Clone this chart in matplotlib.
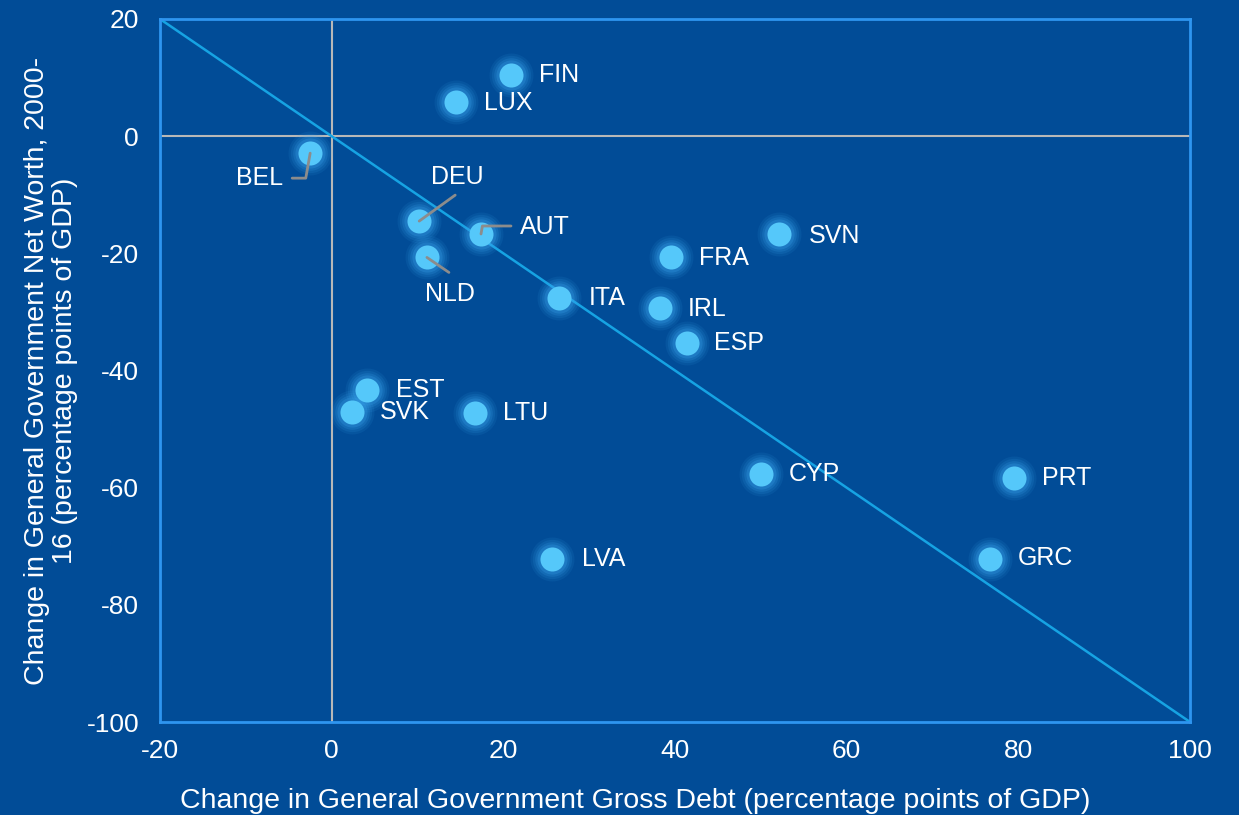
import matplotlib.pyplot as plt

plt.rcParams['font.family'] = ['Liberation Sans', 'DejaVu Sans']
plt.rcParams['axes.unicode_minus'] = False

countries = ['FIN', 'LUX', 'BEL', 'DEU', 'NLD', 'AUT', 'ITA', 'FRA', 'SVN', 'IRL',
             'ESP', 'EST', 'SVK', 'LTU', 'CYP', 'PRT', 'LVA', 'GRC']
debt = [20.9, 14.5, -2.5, 10.2, 11.1, 17.4, 26.5, 39.5, 52.1, 38.3,
        41.4, 4.1, 2.4, 16.7, 50.0, 79.5, 25.7, 76.7]
net_worth = [10.4, 5.8, -2.9, -14.5, -20.7, -16.7, -27.6, -20.6, -16.7, -29.4,
             -35.3, -43.3, -47.1, -47.3, -57.7, -58.4, -72.2, -72.2]

bg = '#014C97'
fig = plt.figure(figsize=(12.39, 8.15), dpi=100, facecolor=bg)
ax = fig.add_axes([0.1291, 0.1141, 0.8314, 0.8626], facecolor=bg)

ax.set_xlim(-20, 100)
ax.set_ylim(-100, 20)
ax.axhline(0, color='#B8B8B8', lw=1.5, zorder=1)
ax.axvline(0, color='#B8B8B8', lw=1.5, zorder=1)
ax.plot([-20, 100], [20, -100], color='#16A3E3', lw=1.8, zorder=2)

# soft glow then dots
for s, a in [(1000, 0.10), (800, 0.13), (620, 0.18), (470, 0.25)]:
    ax.scatter(debt, net_worth, s=s, color='#3AA6EE', alpha=a, lw=0, zorder=3)
ax.scatter(debt, net_worth, s=300, color='#55C8FA', lw=0, zorder=4)

# label offsets in pixels (dx, dy, ha)
offsets = {
    'FIN': (28, 0, 'left'), 'LUX': (28, -1, 'left'), 'BEL': (-27, -25, 'right'),
    'DEU': (38, 44, 'center'), 'NLD': (23, -37, 'center'), 'AUT': (39, 7, 'left'),
    'ITA': (30, 0, 'left'), 'FRA': (28, -1, 'left'), 'SVN': (30, -2, 'left'),
    'IRL': (27, -1, 'left'), 'ESP': (27, 0, 'left'), 'EST': (29, 0, 'left'),
    'SVK': (28, 0, 'left'), 'LTU': (28, 0, 'left'), 'CYP': (28, 0, 'left'),
    'PRT': (28, 0, 'left'), 'LVA': (30, 0, 'left'), 'GRC': (28, 1, 'left'),
}
leaders = {'BEL': (-18, -25), 'DEU': (36, 26), 'NLD': (22, -15), 'AUT': (30, 8)}

for name, x, y in zip(countries, debt, net_worth):
    dx, dy, ha = offsets[name]
    ax.annotate(name, (x, y), xytext=(dx, dy), textcoords='offset pixels',
                ha=ha, va='center', color='white', fontsize=18, zorder=6)
    if name in leaders:
        lx, ly = leaders[name]
        ax.annotate('', (x, y), xytext=(lx, ly), textcoords='offset pixels',
                    arrowprops=dict(arrowstyle='-', color='#8C8C8C', lw=2,
                                    shrinkA=0, shrinkB=0,
                                    connectionstyle='angle,angleA=0,angleB=80,rad=0'
                                    if name in ('BEL', 'AUT') else 'arc3'),
                    zorder=5)

ax.set_xticks([-20, 0, 20, 40, 60, 80, 100])
ax.set_yticks([-100, -80, -60, -40, -20, 0, 20])
ax.tick_params(colors='white', labelsize=19, length=0)
ax.tick_params(axis='x', pad=12)
ax.tick_params(axis='y', pad=15)
for s in ax.spines.values():
    s.set_color('#2E95F0')
    s.set_linewidth(2)

ax.set_xlabel('Change in General Government Gross Debt (percentage points of GDP)',
              color='white', fontsize=20.5, labelpad=8)
ax.xaxis.set_label_coords(0.461, -0.094)
ax.set_ylabel('Change in General Government Net Worth, 2000-\n16 (percentage points of GDP)',
              color='white', fontsize=20.5, labelpad=6, linespacing=1.1)

fig.savefig('out.png', dpi=100, facecolor=bg)
